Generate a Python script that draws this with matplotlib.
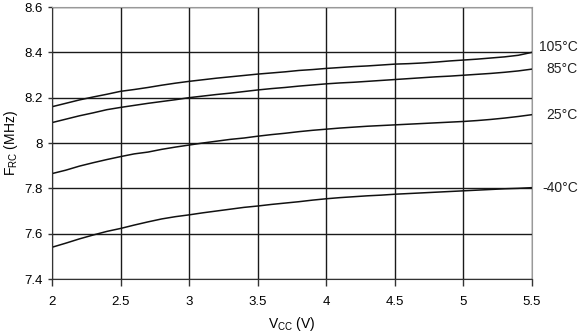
import matplotlib
matplotlib.use("Agg")
import matplotlib.pyplot as plt
import numpy as np

plt.rcParams['font.family'] = ['Liberation Sans', 'DejaVu Sans']

vcc = np.round(np.arange(2.0, 5.51, 0.1), 1)

f_105 = [8.160, 8.175, 8.190, 8.203, 8.215, 8.228, 8.236, 8.245, 8.255, 8.264,
         8.272, 8.279, 8.286, 8.292, 8.298, 8.304, 8.309, 8.314, 8.320, 8.324,
         8.329, 8.333, 8.337, 8.340, 8.344, 8.348, 8.350, 8.353, 8.357, 8.362,
         8.366, 8.370, 8.375, 8.380, 8.387, 8.400]
f_85 = [8.090, 8.105, 8.120, 8.133, 8.147, 8.157, 8.166, 8.175, 8.183, 8.191,
        8.200, 8.207, 8.214, 8.220, 8.227, 8.234, 8.240, 8.245, 8.251, 8.256,
        8.261, 8.265, 8.268, 8.272, 8.276, 8.280, 8.284, 8.288, 8.292, 8.295,
        8.299, 8.303, 8.307, 8.312, 8.318, 8.326]
f_25 = [7.865, 7.880, 7.898, 7.913, 7.927, 7.940, 7.952, 7.960, 7.972, 7.982,
        7.991, 8.000, 8.008, 8.016, 8.022, 8.030, 8.037, 8.043, 8.050, 8.056,
        8.061, 8.066, 8.070, 8.074, 8.077, 8.080, 8.083, 8.086, 8.089, 8.092,
        8.095, 8.099, 8.104, 8.110, 8.117, 8.125]
f_m40 = [7.540, 7.558, 7.577, 7.594, 7.610, 7.623, 7.638, 7.652, 7.665, 7.675,
         7.683, 7.692, 7.700, 7.708, 7.716, 7.722, 7.729, 7.735, 7.741, 7.748,
         7.754, 7.759, 7.763, 7.767, 7.770, 7.774, 7.777, 7.780, 7.783, 7.786,
         7.789, 7.792, 7.795, 7.798, 7.800, 7.803]

curves = [("105°C", f_105, 4), ("85°C", f_85, 0), ("25°C", f_25, 0), ("-40°C", f_m40, 0)]

xticks = [2, 2.5, 3, 3.5, 4, 4.5, 5, 5.5]
yticks = [7.4, 7.6, 7.8, 8.0, 8.2, 8.4, 8.6]

fig = plt.figure(figsize=(5.8, 3.34), dpi=100)
ax = fig.add_axes([52 / 580, 55 / 334, 480 / 580, 272 / 334])

ax.set_xlim(2, 5.5)
ax.set_ylim(7.4, 8.6)
ax.set_xticks(xticks)
ax.set_xticklabels(["2", "2.5", "3", "3.5", "4", "4.5", "5", "5.5"])
ax.set_yticks(yticks)
ax.set_yticklabels(["7.4", "7.6", "7.8", "8", "8.2", "8.4", "8.6"])
ax.grid(True, color="#1a1a1a", linewidth=1.0)
ax.set_axisbelow(True)

for side in ("top", "right"):
    ax.spines[side].set_color("#999999")
for side in ("left", "bottom"):
    ax.spines[side].set_color("#333333")
ax.tick_params(axis="x", direction="out", length=5, width=1, color="#333333",
               labelsize=9.5, pad=7)
ax.tick_params(axis="y", direction="out", length=3, width=1, color="#333333",
               labelsize=9.5, pad=4)

for label, vals, dy in curves:
    ax.plot(vcc, vals, color="#111111", linewidth=1.1)
    ax.annotate(label, xy=(1.0, vals[-1]), xycoords=("axes fraction", "data"),
                xytext=(33, dy), textcoords="offset points",
                ha="right", va="center", fontsize=10, color="#222222")

ax.set_xlabel(r"V$_{\mathregular{CC}}$ (V)", fontsize=10, labelpad=5)
ax.set_ylabel(r"F$_{\mathregular{RC}}$ (MHz)", fontsize=10, labelpad=3)

fig.savefig("out.png", dpi=100)
